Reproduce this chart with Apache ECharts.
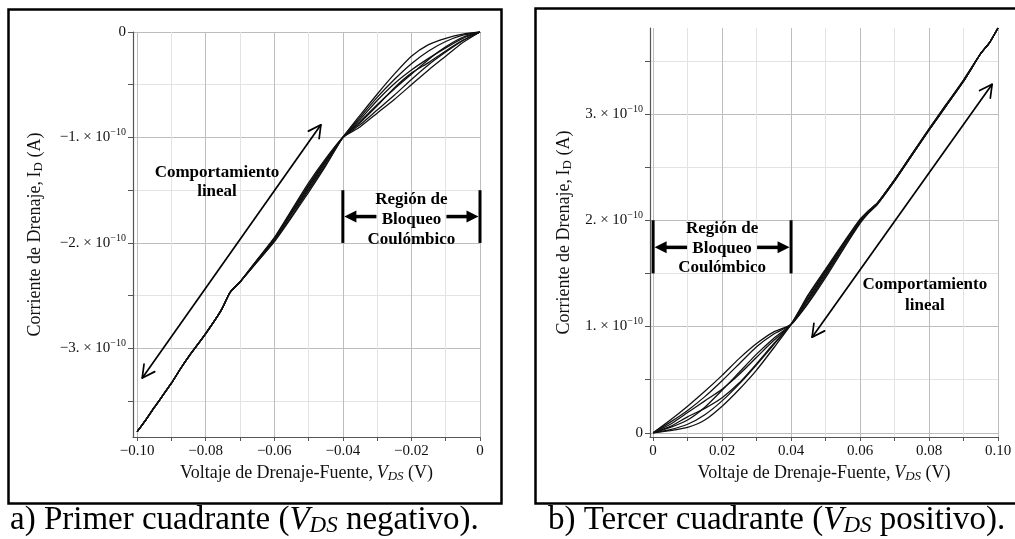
<!DOCTYPE html>
<html>
<head>
<meta charset="utf-8">
<script src="https://cdn.jsdelivr.net/npm/echarts@6/dist/echarts.min.js"></script>
<style>
  html, body { margin: 0; padding: 0; background: #fff; }
  #chart { width: 1015px; height: 539px; }
</style>
</head>
<body>
<div id="chart"></div>
<script>
// ---------- data (current in units of 1e-10 A, voltage in V) ----------
const SCALE = 1e-10;

// a) negative V_DS sweep
const vdsNeg = [-0.1, -0.0975, -0.095, -0.09, -0.0875, -0.085, -0.08, -0.0755, -0.0729, -0.07, -0.065,
                -0.06, -0.055, -0.05, -0.045, -0.04, -0.035, -0.03, -0.025, -0.02, -0.015, -0.01, -0.005, 0];
const idNeg1 = [-3.79, -3.68, -3.56, -3.33, -3.20, -3.08, -2.86, -2.64, -2.47, -2.37, -2.16, -1.95, -1.69, -1.43, -1.20, -1.00, -0.90, -0.77, -0.64, -0.50, -0.36, -0.23, -0.10, 0];
const idNeg2 = [-3.79, -3.68, -3.56, -3.33, -3.20, -3.08, -2.86, -2.64, -2.47, -2.37, -2.16, -1.96, -1.70, -1.45, -1.21, -1.00, -0.88, -0.74, -0.60, -0.45, -0.31, -0.19, -0.08, 0];
const idNeg3 = [-3.79, -3.68, -3.56, -3.33, -3.20, -3.08, -2.86, -2.64, -2.47, -2.37, -2.17, -1.96, -1.72, -1.46, -1.22, -1.00, -0.86, -0.70, -0.53, -0.39, -0.29, -0.18, -0.08, 0];
const idNeg4 = [-3.79, -3.68, -3.56, -3.33, -3.20, -3.08, -2.86, -2.64, -2.47, -2.37, -2.17, -1.97, -1.72, -1.47, -1.23, -1.00, -0.85, -0.69, -0.54, -0.40, -0.26, -0.14, -0.05, 0];
const idNeg5 = [-3.79, -3.68, -3.56, -3.33, -3.20, -3.08, -2.86, -2.64, -2.47, -2.37, -2.17, -1.97, -1.73, -1.49, -1.24, -1.00, -0.83, -0.65, -0.49, -0.36, -0.25, -0.15, -0.06, 0];
const idNeg6 = [-3.79, -3.68, -3.56, -3.33, -3.20, -3.08, -2.86, -2.64, -2.47, -2.37, -2.18, -1.98, -1.75, -1.50, -1.26, -1.00, -0.81, -0.62, -0.45, -0.30, -0.18, -0.09, -0.03, 0];
const idNeg7 = [-3.79, -3.68, -3.56, -3.33, -3.20, -3.08, -2.86, -2.64, -2.47, -2.37, -2.18, -1.99, -1.76, -1.52, -1.27, -1.00, -0.79, -0.59, -0.40, -0.23, -0.12, -0.06, -0.02, 0];

// b) positive V_DS sweep
const vdsPos = [0, 0.005, 0.01, 0.015, 0.02, 0.025, 0.03, 0.035, 0.04, 0.045, 0.05, 0.055, 0.06,
                0.0625, 0.065, 0.07, 0.075, 0.08, 0.085, 0.09, 0.095, 0.0975, 0.1];
const idPos1 = [0, 0.12, 0.25, 0.39, 0.54, 0.70, 0.84, 0.95, 1.02, 1.22, 1.46, 1.72, 1.97, 2.07, 2.15, 2.37, 2.61, 2.85, 3.08, 3.31, 3.57, 3.67, 3.81];
const idPos2 = [0, 0.10, 0.21, 0.34, 0.49, 0.65, 0.81, 0.93, 1.02, 1.23, 1.48, 1.73, 1.98, 2.07, 2.15, 2.37, 2.61, 2.85, 3.08, 3.31, 3.57, 3.67, 3.81];
const idPos3 = [0, 0.08, 0.19, 0.30, 0.41, 0.55, 0.71, 0.87, 1.02, 1.25, 1.49, 1.75, 1.99, 2.08, 2.15, 2.37, 2.61, 2.85, 3.08, 3.31, 3.57, 3.67, 3.81];
const idPos4 = [0, 0.05, 0.12, 0.24, 0.40, 0.57, 0.74, 0.89, 1.02, 1.26, 1.51, 1.76, 1.99, 2.08, 2.16, 2.38, 2.61, 2.85, 3.08, 3.31, 3.57, 3.67, 3.81];
const idPos5 = [0, 0.06, 0.15, 0.23, 0.33, 0.47, 0.65, 0.84, 1.02, 1.27, 1.52, 1.76, 2.00, 2.09, 2.16, 2.38, 2.62, 2.85, 3.09, 3.31, 3.57, 3.67, 3.81];
const idPos6 = [0, 0.03, 0.08, 0.17, 0.30, 0.46, 0.64, 0.83, 1.02, 1.29, 1.53, 1.77, 2.00, 2.09, 2.16, 2.38, 2.62, 2.86, 3.09, 3.32, 3.57, 3.67, 3.81];
const idPos7 = [0, 0.02, 0.05, 0.12, 0.25, 0.41, 0.59, 0.80, 1.02, 1.30, 1.54, 1.78, 2.01, 2.09, 2.16, 2.38, 2.62, 2.86, 3.09, 3.32, 3.57, 3.67, 3.81];

// ---------- ticks ----------
const xTicksNeg = [-0.1, -0.09, -0.08, -0.07, -0.06, -0.05, -0.04, -0.03, -0.02, -0.01, 0];
const xLabelValsNeg = [-0.1, -0.08, -0.06, -0.04, -0.02, 0];
const xLabelsNeg = ['\u22120.10', '\u22120.08', '\u22120.06', '\u22120.04', '\u22120.02', '0'];
const yTicksNeg = [-3.5, -3, -2.5, -2, -1.5, -1, -0.5, 0];
const yLabelValsNeg = [-3, -2, -1, 0];
const yLabelsNeg = ['\u22123.', '\u22122.', '\u22121.', '0'];

const xTicksPos = [0, 0.01, 0.02, 0.03, 0.04, 0.05, 0.06, 0.07, 0.08, 0.09, 0.1];
const xLabelValsPos = [0, 0.02, 0.04, 0.06, 0.08, 0.1];
const xLabelsPos = ['0', '0.02', '0.04', '0.06', '0.08', '0.10'];
const yTicksPos = [0, 0.5, 1, 1.5, 2, 2.5, 3, 3.5];
const yLabelValsPos = [0, 1, 2, 3];
const yLabelsPos = ['0', '1.', '2.', '3.'];

// ---------- styling ----------
const SERIF = '"Liberation Serif", "DejaVu Serif", serif';
const MAJOR = '#bdbdbd';
const MINOR = '#e3e3e3';

const curvesNeg = [idNeg1, idNeg2, idNeg3, idNeg4, idNeg5, idNeg6, idNeg7];
const curvesPos = [idPos1, idPos2, idPos3, idPos4, idPos5, idPos6, idPos7];

function pairs(xs, ys) { return xs.map((x, i) => [x, ys[i] * SCALE]); }

function findLabel(v, vals, labels, mult) {
  for (let i = 0; i < vals.length; i++) {
    if (Math.abs(v - vals[i] * mult) < 1e-9 * mult) return labels[i];
  }
  return '';
}

function yFormatter(vals, labels) {
  return function (v) {
    const lab = findLabel(v, vals, labels, SCALE);
    if (lab === '') return '';
    if (lab === '0') return '{m|0}';
    return '{m|' + lab + ' \u00d7 10}{s|\u221210}';
  };
}
function xFormatter(vals, labels) {
  return function (v) { return findLabel(v, vals, labels, 1); };
}

const yRich = {
  m: { fontFamily: SERIF, fontSize: 15, lineHeight: 20, color: '#111' },
  s: { fontFamily: SERIF, fontSize: 10, lineHeight: 7, verticalAlign: 'top', color: '#111' }
};
const nameRich = {
  t: { fontFamily: SERIF, fontSize: 18, lineHeight: 20, color: '#111' },
  i: { fontFamily: SERIF, fontSize: 18, lineHeight: 20, fontStyle: 'italic', color: '#111' },
  sb: { fontFamily: SERIF, fontSize: 13, lineHeight: 8, verticalAlign: 'bottom', color: '#111' },
  si: { fontFamily: SERIF, fontSize: 13, lineHeight: 8, verticalAlign: 'bottom', fontStyle: 'italic', color: '#111' }
};
const X_NAME = '{t|Voltaje de Drenaje-Fuente,\u2009}{i|V}{si|DS}{t| (V)}';
const Y_NAME = '{t|Corriente de Drenaje,\u2009I}{sb|D}{t| (A)}';

function xAxisCfg(gridIndex, min, max, ticks, lvals, labels) {
  return {
    type: 'value', gridIndex, min, max,
    name: X_NAME, nameLocation: 'middle', nameGap: 20,
    nameTextStyle: { rich: nameRich },
    axisLine: { show: true, onZero: false, lineStyle: { color: '#555', width: 1.2 } },
    axisTick: { show: true, inside: false, length: 4, customValues: ticks, lineStyle: { color: '#555' } },
    axisLabel: { customValues: lvals, formatter: xFormatter(lvals, labels), margin: 7,
                 fontFamily: SERIF, fontSize: 15, color: '#111' },
    splitLine: { show: true, lineStyle: { color: [MAJOR, MINOR], width: 1 } },
    minorTick: { show: false }, minorSplitLine: { show: false }
  };
}
function yAxisCfg(gridIndex, min, max, ticks, lvals, labels, colors, gap) {
  return {
    type: 'value', gridIndex, min, max,
    name: Y_NAME, nameLocation: 'middle', nameGap: gap, nameRotate: 90,
    nameTextStyle: { rich: nameRich },
    axisLine: { show: true, onZero: false, lineStyle: { color: '#555', width: 1.2 } },
    axisTick: { show: true, inside: false, length: 5, customValues: ticks.map(t => t * SCALE), lineStyle: { color: '#555' } },
    axisLabel: { customValues: lvals.map(t => t * SCALE), formatter: yFormatter(lvals, labels), margin: 7, rich: yRich },
    splitLine: { show: true, lineStyle: { color: colors, width: 1 } },
    minorTick: { show: false }, minorSplitLine: { show: false }
  };
}

// ---------- annotations (anchors in data coordinates) ----------
const annNeg = {
  arrowA: [-0.0985, -3.28], arrowB: [-0.0464, -0.88],
  linText: [-0.0767, -1.335, -1.515],
  brX0: -0.04, brX1: 0, brTop: -1.5, brBot: -2.0, brArrow: -1.75,
  regText: [-0.02, -1.59, -1.78, -1.97]
};
const annPos = {
  arrowA: [0.0461, 0.90], arrowB: [0.0983, 3.28],
  linText: [0.0788, 1.39, 1.20],
  brX0: 0, brX1: 0.04, brTop: 2.0, brBot: 1.5, brArrow: 1.745,
  regText: [0.02, 1.92, 1.735, 1.55]
};

function openHead(list, tip, from) {
  const dx = from[0] - tip[0], dy = from[1] - tip[1];
  const L = Math.hypot(dx, dy);
  const ux = dx / L, uy = dy / L;
  const len = 14, ang = 28 * Math.PI / 180;
  [ang, -ang].forEach(a => {
    const rx = ux * Math.cos(a) - uy * Math.sin(a);
    const ry = ux * Math.sin(a) + uy * Math.cos(a);
    list.push({ type: 'line', shape: { x1: tip[0], y1: tip[1], x2: tip[0] + rx * len, y2: tip[1] + ry * len },
                style: { stroke: '#000', lineWidth: 1.7, lineCap: 'round' } });
  });
}
function filledHead(list, tip, dirX) {
  // dirX: +1 points right, -1 points left
  const len = 12, hw = 6;
  list.push({ type: 'polygon', shape: { points: [[tip[0], tip[1]], [tip[0] - dirX * len, tip[1] - hw], [tip[0] - dirX * len, tip[1] + hw]] },
              style: { fill: '#000' } });
}
function textEl(str, x, y) {
  return { type: 'text', style: { text: str, x, y, fill: '#000', align: 'center', verticalAlign: 'middle',
           font: 'bold 17px ' + SERIF } };
}

function annotationRenderer(ann) {
  return function (params, api) {
    const P = (x, y) => api.coord([x, y * SCALE]);
    const ch = [];
    // double arrow for the linear regime
    const a = P(ann.arrowA[0], ann.arrowA[1]);
    const b = P(ann.arrowB[0], ann.arrowB[1]);
    ch.push({ type: 'line', shape: { x1: a[0], y1: a[1], x2: b[0], y2: b[1] }, style: { stroke: '#000', lineWidth: 1.7 } });
    openHead(ch, a, b);
    openHead(ch, b, a);
    const t1 = P(ann.linText[0], ann.linText[1]);
    const t2 = P(ann.linText[0], ann.linText[2]);
    ch.push(textEl('Comportamiento', t1[0], t1[1]));
    ch.push(textEl('lineal', t2[0], t2[1]));
    // Coulomb blockade bracket
    const l0 = P(ann.brX0, ann.brTop), l1 = P(ann.brX0, ann.brBot);
    const r0 = P(ann.brX1, ann.brTop), r1 = P(ann.brX1, ann.brBot);
    ch.push({ type: 'line', shape: { x1: l0[0], y1: l0[1], x2: l1[0], y2: l1[1] }, style: { stroke: '#000', lineWidth: 3 } });
    ch.push({ type: 'line', shape: { x1: r0[0], y1: r0[1], x2: r1[0], y2: r1[1] }, style: { stroke: '#000', lineWidth: 3 } });
    const la = P(ann.brX0, ann.brArrow), ra = P(ann.brX1, ann.brArrow);
    const cx = (la[0] + ra[0]) / 2, gap = 35;
    ch.push({ type: 'line', shape: { x1: la[0] + 10, y1: la[1], x2: cx - gap, y2: la[1] }, style: { stroke: '#000', lineWidth: 3.5 } });
    ch.push({ type: 'line', shape: { x1: cx + gap, y1: ra[1], x2: ra[0] - 10, y2: ra[1] }, style: { stroke: '#000', lineWidth: 3.5 } });
    filledHead(ch, [la[0] + 1.5, la[1]], -1);
    filledHead(ch, [ra[0] - 1.5, ra[1]], 1);
    const g1 = P(ann.regText[0], ann.regText[1]);
    const g2 = P(ann.regText[0], ann.regText[2]);
    const g3 = P(ann.regText[0], ann.regText[3]);
    ch.push(textEl('Regi\u00f3n de', g1[0], g1[1]));
    ch.push(textEl('Bloqueo', g2[0], g2[1]));
    ch.push(textEl('Coul\u00f3mbico', g3[0], g3[1]));
    return { type: 'group', children: ch };
  };
}

function curveSeries(xs, list, xi) {
  return list.map((ys, k) => ({
    type: 'line', name: 'c' + (k + 1), xAxisIndex: xi, yAxisIndex: xi,
    data: pairs(xs, ys), showSymbol: false, smooth: 0.2,
    lineStyle: { color: '#111', width: 1.3 }, silent: true, z: 3
  }));
}

const chart = echarts.init(document.getElementById('chart'), null, { renderer: 'canvas' });

// rich tokens of free graphic text take the CSS font shorthand
const captionRich = {
  t: { font: '33px ' + SERIF, lineHeight: 34, fill: '#000' },
  i: { font: 'italic 33px ' + SERIF, lineHeight: 34, fill: '#000' },
  s: { font: 'italic 23px ' + SERIF, lineHeight: 16, verticalAlign: 'bottom', fill: '#000' }
};

chart.setOption({
  animation: false,
  backgroundColor: '#fff',
  grid: [
    { left: 133, top: 32, width: 347, height: 405, containLabel: false },
    { left: 650, top: 28, width: 348, height: 409, containLabel: false }
  ],
  xAxis: [
    xAxisCfg(0, -0.1012, 0, xTicksNeg, xLabelValsNeg, xLabelsNeg),
    xAxisCfg(1, -0.0009, 0.1, xTicksPos, xLabelValsPos, xLabelsPos)
  ],
  yAxis: [
    yAxisCfg(0, -3.84 * SCALE, 0, yTicksNeg, yLabelValsNeg, yLabelsNeg, [MINOR, MAJOR], 88),
    yAxisCfg(1, -0.04 * SCALE, 3.81 * SCALE, yTicksPos, yLabelValsPos, yLabelsPos, [MAJOR, MINOR], 76)
  ],
  graphic: [
    { type: 'rect', left: 6, top: 7, shape: { width: 493, height: 494 }, style: { fill: 'none', stroke: '#000', lineWidth: 2.5 }, silent: true },
    { type: 'rect', left: 533, top: 6, shape: { width: 481, height: 495 }, style: { fill: 'none', stroke: '#000', lineWidth: 2.5 }, silent: true },
    { type: 'text', left: 10, top: 504, style: { text: '{t|a) Primer cuadrante (}{i|V}{s|DS}{t| negativo).}', rich: captionRich, font: '33px ' + SERIF } },
    { type: 'text', left: 548, top: 504, style: { text: '{t|b) Tercer cuadrante (}{i|V}{s|DS}{t| positivo).}', rich: captionRich, font: '33px ' + SERIF } }
  ],
  series: [
    ...curveSeries(vdsNeg, curvesNeg, 0),
    ...curveSeries(vdsPos, curvesPos, 1),
    { type: 'custom', xAxisIndex: 0, yAxisIndex: 0, data: [[-0.05, -2 * SCALE]], renderItem: annotationRenderer(annNeg), silent: true, z: 5, clip: false },
    { type: 'custom', xAxisIndex: 1, yAxisIndex: 1, data: [[0.05, 2 * SCALE]], renderItem: annotationRenderer(annPos), silent: true, z: 5, clip: false }
  ]
});
</script>
</body>
</html>
